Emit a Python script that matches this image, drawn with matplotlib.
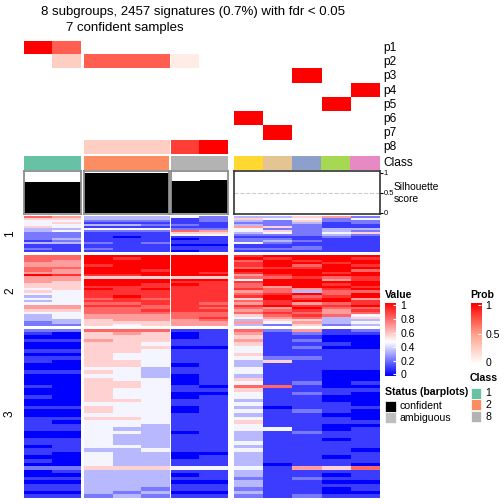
import numpy as np
import matplotlib.pyplot as plt
from matplotlib.colors import LinearSegmentedColormap
from matplotlib.patches import Rectangle

plt.rcParams['font.family'] = ['Liberation Sans', 'DejaVu Sans']

title = "8 subgroups, 2457 signatures (0.7%) with fdr < 0.05"
subtitle = "7 confident samples"

# samples split into column slices: class 1, class 2, class 8, the rest
col_groups = [2, 3, 2, 5]
class_colors = ['#66C2A5', '#66C2A5', '#FC8D62', '#FC8D62', '#FC8D62', '#B3B3B3', '#B3B3B3',
                '#FFD92F', '#E5C494', '#8DA0CB', '#A6D854', '#E78AC3']
prob_names = ['p1', 'p2', 'p3', 'p4', 'p5', 'p6', 'p7', 'p8']
prob = [
    [1.0, 0.7, 0, 0, 0, 0, 0, 0, 0, 0, 0, 0],
    [0, 0.25, 0.7, 0.7, 0.7, 0.1, 0, 0, 0, 0, 0, 0],
    [0, 0, 0, 0, 0, 0, 0, 0, 0, 1.0, 0, 0],
    [0, 0, 0, 0, 0, 0, 0, 0, 0, 0, 0, 1.0],
    [0, 0, 0, 0, 0, 0, 0, 0, 0, 0, 1.0, 0],
    [0, 0, 0, 0, 0, 0, 0, 1.0, 0, 0, 0, 0],
    [0, 0, 0, 0, 0, 0, 0, 0, 1.0, 0, 0, 0],
    [0, 0, 0.25, 0.25, 0.25, 0.8, 1.0, 0, 0, 0, 0, 0],
]
silhouette = [0.78, 0.78, 0.98, 0.98, 0.98, 0.8, 0.83, 0, 0, 0, 0, 0]

# heatmap rows, one digit per sample, value = digit / 9
rows_g1 = [
    "763334233562", "553331254424", "442221232522", "451111122312",
    "443322132211", "541111165211", "334442242233", "342227645232",
    "221115534245", "221114422232", "221011111121", "231110122111",
    "121111123211", "332121142111", "111110011111", "111111111211",
    "212111122211", "111110111111",
]
rows_g2 = [
    "779999989999", "779899998998", "769999979899", "669999989989",
    "668999989798", "779999978899", "769989999997", "669999889989",
    "988899968999", "665555577878", "669999949968", "659998889999",
    "559989879989", "558888876998", "459898887689", "548888867377",
    "448888878979", "348988889789", "447878859896", "348888878998",
    "447788768678", "668878889889", "667778776977", "557788867868",
    "447777778767", "346667757874", "346667846735", "335666735533",
    "235556664634", "225456632523",
]
rows_g3 = [
    "227771172612", "105650161211", "005550151100", "116551161200",
    "005541151110", "005550041200", "115541141111", "005441151111",
    "115441142211", "105541135111", "005540131111", "004431141111",
    "115431141100", "004430131100", "005440151100", "005540141201",
    "105541077100", "005441151111", "005440041210", "105440141100",
    "005541131100", "004441141110", "115440130111", "005440141210",
    "004441131100", "115541141110", "104441151111", "114431141100",
    "114331144101", "004430131211", "004331131111", "114331131101",
    "114331141111", "014431131111", "113341141110", "104330031111",
    "004330131101", "104331131111", "004331130110", "225554441657",
    "013331131111", "003330131101", "113331121211", "003330031100",
    "113331131111", "113321121101", "003230031100", "112321121211",
]
row_groups = [rows_g1, rows_g2, rows_g3]
row_labels = ['1', '2', '3']

value_cmap = LinearSegmentedColormap.from_list('val', [(0, '#0000FF'), (0.46, '#FFFFFF'), (1, '#FF0000')])
prob_cmap = LinearSegmentedColormap.from_list('prob', [(0, '#FFFFFF'), (0.5, '#FF9F88'), (1, '#FF0000')])

W = 504.0
fig = plt.figure(figsize=(5.04, 5.04), dpi=100)


def px_axes(x0, y0, x1, y1):
    return fig.add_axes([x0 / W, 1 - y1 / W, (x1 - x0) / W, (y1 - y0) / W])


# overlay for free text and legend keys (pixel coordinates)
lax = px_axes(0, 0, 504, 504)
lax.set_xlim(0, 504)
lax.set_ylim(504, 0)
lax.axis('off')

col_x = [(24, 81), (84, 169), (171, 228), (234, 379.5)]
row_y = [(216, 252), (255, 326), (328.5, 498)]

prob_arr = np.array(prob)
starts = np.cumsum([0] + col_groups)

for gi, (x0, x1) in enumerate(col_x):
    cs = slice(starts[gi], starts[gi + 1])
    n = col_groups[gi]

    # probability rows
    ax = px_axes(x0, 41, x1, 154.3)
    ax.imshow(prob_arr[:, cs], cmap=prob_cmap, vmin=0, vmax=1, aspect='auto', interpolation='nearest')
    ax.axis('off')

    # class row
    ax = px_axes(x0, 156, x1, 170.3)
    ax.bar(np.arange(n), 1, width=1, color=class_colors[cs], linewidth=0)
    ax.set_xlim(-0.5, n - 0.5)
    ax.set_ylim(0, 1)
    ax.axis('off')

    # silhouette barplot
    ax = px_axes(x0, 171, x1, 214)
    sil = np.array(silhouette[cs])
    ax.axhline(0.5, color='#CCCCCC', linestyle='--', linewidth=0.8, zorder=0)
    ax.bar(np.arange(n), sil, width=1, color='black', linewidth=0)
    ax.set_xlim(-0.5, n - 0.5)
    ax.set_ylim(-0.025, 1.042)
    ax.set_xticks([])
    if gi < 3:
        ax.set_yticks([])
        for s in ax.spines.values():
            s.set_color('#8C8C8C')
            s.set_linewidth(1.3)
    else:
        for s in ax.spines.values():
            s.set_color('#333333')
            s.set_linewidth(1.2)
        ax.yaxis.tick_right()
        ax.set_yticks([0, 0.5, 1])
        ax.set_yticklabels(['0', '0.5', '1'], fontsize=5.5)
        ax.tick_params(axis='y', length=2, pad=1)

    # heatmap slices
    for ri, (y0, y1) in enumerate(row_y):
        block = np.array([[int(c) / 9 for c in r] for r in row_groups[ri]])[:, cs]
        ax = px_axes(x0, y0, x1, y1)
        ax.imshow(block, cmap=value_cmap, vmin=0, vmax=1, aspect='auto', interpolation='nearest')
        ax.axis('off')

# titles and annotation names
lax.text(193, 12, title, ha='center', va='center', fontsize=9.5)
lax.text(125, 28, subtitle, ha='center', va='center', fontsize=9.5)
for i, name in enumerate(prob_names):
    lax.text(383, 41 + 14.16 * (i + 0.5), name, ha='left', va='center', fontsize=8.6)
lax.text(383, 163, 'Class', ha='left', va='center', fontsize=8.6)
lax.text(394, 187, 'Silhouette', ha='left', va='center', fontsize=7.4)
lax.text(394, 199, 'score', ha='left', va='center', fontsize=7.4)
for ri, (y0, y1) in enumerate(row_y):
    lax.text(10, (y0 + y1) / 2, row_labels[ri], rotation=90, ha='center', va='center', fontsize=8.6)

# Value legend
lax.text(385, 295, 'Value', ha='left', va='center', fontsize=7.6, fontweight='bold')
cax = px_axes(385, 303, 396, 376.5)
cax.imshow(np.linspace(1, 0, 200)[:, None], cmap=value_cmap, vmin=0, vmax=1, aspect='auto',
           extent=[0, 1, -0.03, 1.03])
cax.set_ylim(-0.03, 1.03)
cax.set_xticks([])
cax.yaxis.tick_right()
cax.set_yticks([0, 0.2, 0.4, 0.6, 0.8, 1])
cax.set_yticklabels(['0', '0.2', '0.4', '0.6', '0.8', '1'], fontsize=7.6)
cax.tick_params(axis='y', direction='in', length=2, color='white', pad=3)
for s in cax.spines.values():
    s.set_visible(False)

# Prob legend
lax.text(470, 295, 'Prob', ha='left', va='center', fontsize=7.6, fontweight='bold')
pax = px_axes(470.5, 303, 481, 364)
pax.imshow(np.linspace(1, 0, 200)[:, None], cmap=prob_cmap, vmin=0, vmax=1, aspect='auto',
           extent=[0, 1, -0.04, 1.04])
pax.set_ylim(-0.04, 1.04)
pax.set_xticks([])
pax.yaxis.tick_right()
pax.set_yticks([0, 0.5, 1])
pax.set_yticklabels(['0', '0.5', '1'], fontsize=7.6)
pax.tick_params(axis='y', direction='in', length=2, color='white', pad=3)
for s in pax.spines.values():
    s.set_visible(False)

# Class legend
lax.text(470, 378, 'Class', ha='left', va='center', fontsize=7.6, fontweight='bold')
for i, (lab, col) in enumerate([('1', '#66C2A5'), ('2', '#FC8D62'), ('8', '#B3B3B3')]):
    lax.add_patch(Rectangle((470.5, 387.5 + 11.8 * i), 10.5, 11, facecolor=col, edgecolor='white', linewidth=0.5))
    lax.text(485, 393 + 11.8 * i, lab, ha='left', va='center', fontsize=7.6)

# Status legend
lax.text(385, 392, 'Status (barplots)', ha='left', va='center', fontsize=7.6, fontweight='bold')
for i, (lab, col) in enumerate([('confident', 'black'), ('ambiguous', '#BEBEBE')]):
    lax.add_patch(Rectangle((385, 400.5 + 11.8 * i), 11, 11, facecolor=col, edgecolor='white', linewidth=0.5))
    lax.text(400, 406 + 11.8 * i, lab, ha='left', va='center', fontsize=7.6)

plt.savefig('out.png', dpi=100)
